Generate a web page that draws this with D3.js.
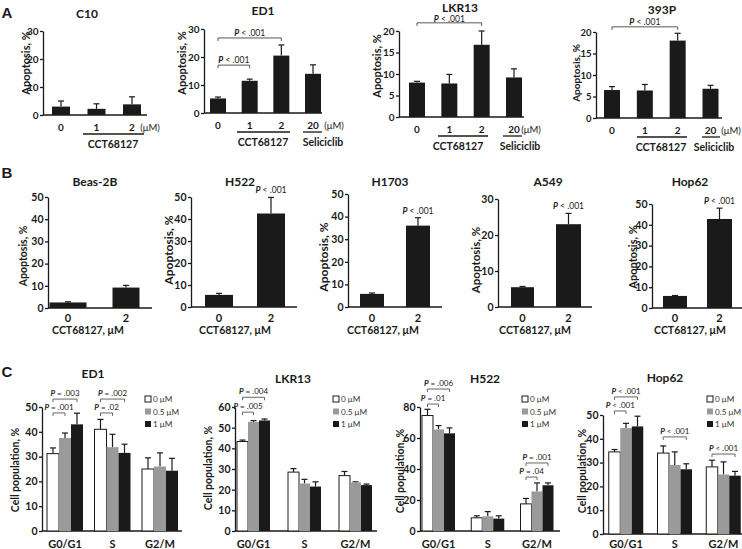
<!DOCTYPE html>
<html><head><meta charset="utf-8">
<script src="https://cdn.jsdelivr.net/npm/d3@7"></script>
<style>body{margin:0;background:#fff}svg{display:block}</style>
</head><body><svg id="c" width="742" height="549"></svg>
<script>
// ---------- DATA ----------
// Panel A: apoptosis (%) by dose (µM)
const doseCats = ["0", "1", "2", "20"];
const c10Cats = ["0", "1", "2"];
const c10Vals = [3.0, 2.2, 3.8];
const c10Errs = [2.0, 1.8, 2.7];
const ed1Vals = [5.2, 11.5, 20.5, 14.0];
const ed1Errs = [0.5, 0.6, 3.8, 3.2];
const lkr13Vals = [8.0, 7.8, 16.8, 9.2];
const lkr13Errs = [0.3, 2.1, 3.2, 2.0];
const p393Vals = [6.5, 6.4, 18.0, 6.8];
const p393Errs = [0.8, 1.4, 1.7, 0.8];
const ticksA30 = [0, 10, 20, 30];
const ticksA20 = [0, 5, 10, 15, 20];
const ed1Brackets = [["0", "1", 17.1, " < .001"], ["0", "2", 26.8, " < .001"]];
const lkr13Brackets = [["0", "2", 21.9, " < .001"]];
const p393Brackets = [["0", "2", 21.2, " < .001"]];

// Panel B: apoptosis (%) at 0 and 2 µM CCT68127
const bCats = ["0", "2"];
const beasVals = [2.5, 9.2];
const beasErrs = [0.3, 1.0];
const h522Vals = [5.5, 42.5];
const h522Errs = [0.7, 7.3];
const h1703Vals = [5.8, 36.0];
const h1703Errs = [0.4, 3.5];
const a549Vals = [5.5, 23.0];
const a549Errs = [0.2, 3.0];
const hop62Vals = [5.8, 42.8];
const hop62Errs = [0.2, 5.2];
const ticksB50 = [0, 10, 20, 30, 40, 50];
const ticksB30 = [0, 10, 20, 30];

// Panel C: cell cycle populations (%) [phase][dose]
const phases = ["G0/G1", "S", "G2/M"];
const cycleDoses = ["0 μM", "0.5 μM", "1 μM"];
const ed1CycleVals = [[31.2, 37.5, 43.0], [41.0, 33.8, 31.5], [25.0, 26.0, 24.3]];
const ed1CycleErrs = [[2.3, 2.0, 4.5], [4.0, 5.2, 3.5], [4.5, 5.5, 5.0]];
const lkr13CycleVals = [[43.3, 52.8, 53.5], [28.5, 23.0, 21.5], [26.8, 23.5, 22.2]];
const lkr13CycleErrs = [[0.7, 0.6, 0.7], [1.7, 2.0, 2.3], [2.0, 0.3, 0.5]];
const h522CycleVals = [[74.5, 65.5, 63.0], [8.5, 9.5, 8.0], [17.5, 25.5, 29.5]];
const h522CycleErrs = [[4.0, 2.5, 3.5], [1.3, 3.0, 1.8], [3.5, 5.5, 1.5]];
const hop62CycleVals = [[34.5, 44.5, 45.2], [34.0, 29.0, 27.2], [28.2, 25.0, 24.5]];
const hop62CycleErrs = [[1.0, 2.0, 4.3], [3.0, 5.5, 2.3], [2.8, 5.3, 1.8]];
const ticksC50 = [0, 10, 20, 30, 40, 50];
const ticksC60 = [0, 10, 20, 30, 40, 50, 60];
const ticksC80 = [0, 20, 40, 60, 80];
const ed1CycleBrackets = [[0, 0, 2, 53.2, " = .003"], [0, 0, 1, 47.6, " = .001"], [1, 0, 2, 53.2, " = .002"], [1, 0, 1, 47.6, " = .02"]];
const lkr13CycleBrackets = [[0, 0, 2, 64.7, " = .004"], [0, 0, 1, 57.5, " = .005"]];
const h522CycleBrackets = [[0, 0, 2, 91.6, " = .006"], [0, 0, 1, 81.9, " = .01"], [2, 0, 2, 43.9, " = .001"], [2, 0, 1, 34.8, " = .04"]];
const hop62CycleBrackets = [[0, 0, 2, 57.6, " < .001"], [0, 0, 1, 51.7, " < .001"], [1, 0, 2, 40.8, " < .001"], [2, 0, 2, 33.6, " < .001"]];

// ---------- DRAWING ----------
const FONT = "Lato, 'Open Sans', 'DejaVu Sans', sans-serif";
const INK = "#1a1a1a";
const svg = d3.select("#c").attr("font-family", FONT);

function txt(x, y, s, o = {}) {
  const t = svg.append("text").attr("x", x).attr("y", y).text(s)
    .attr("font-size", o.size || 10).attr("font-weight", o.weight || 700)
    .attr("text-anchor", o.anchor || "middle").attr("dominant-baseline", "central")
    .attr("fill", o.fill || INK);
  if (o.rotate) t.attr("transform", `rotate(-90,${x},${y})`);
  return t;
}
function pText(x, y, rest, size) {
  const t = svg.append("text").attr("x", x).attr("y", y).attr("text-anchor", "middle")
    .attr("dominant-baseline", "central").attr("font-size", size).attr("fill", INK);
  t.append("tspan").attr("font-style", "italic").attr("font-weight", 700).text("P");
  t.append("tspan").attr("font-weight", 400).text(rest);
}
function yAxis(p, y) {
  const g = svg.append("g").attr("transform", `translate(${p.ax},0)`)
    .call(d3.axisLeft(y).tickValues(p.ticks).tickSize(3).tickSizeOuter(0).tickPadding(1.5));
  g.attr("font-family", FONT);
  g.select(".domain").attr("stroke", INK).attr("stroke-width", 1.3);
  g.selectAll(".tick line").attr("stroke", INK).attr("stroke-width", 1.3);
  g.selectAll(".tick text").attr("font-size", p.tickFs || 10).attr("font-weight", 700).attr("fill", INK);
}
function xLine(p, y) {
  svg.append("line").attr("x1", p.ax).attr("x2", p.xEnd).attr("y1", y(0)).attr("y2", y(0))
    .attr("stroke", INK).attr("stroke-width", 1.3);
}
function bar(cx, w, v, e, y, fill) {
  svg.append("line").attr("x1", cx).attr("x2", cx).attr("y1", y(v)).attr("y2", y(v + e))
    .attr("stroke", INK).attr("stroke-width", 1.2);
  svg.append("line").attr("x1", cx - 3).attr("x2", cx + 3).attr("y1", y(v + e)).attr("y2", y(v + e))
    .attr("stroke", INK).attr("stroke-width", 1.2);
  svg.append("rect").attr("x", cx - w / 2).attr("y", y(v)).attr("width", w)
    .attr("height", y(0) - y(v)).attr("fill", fill)
    .attr("stroke", fill === "#fff" ? INK : "none").attr("stroke-width", 1);
}
function bracket(x1, x2, yy, tip, col) {
  svg.append("path").attr("d", `M${x1},${yy + tip}V${yy}H${x2}V${yy + tip}`)
    .attr("fill", "none").attr("stroke", col || "#555").attr("stroke-width", 1);
}

// panel letters
txt(7, 12, "A", { size: 15, weight: 700 }).attr("font-family", "Liberation Sans, Arial, sans-serif");
txt(7, 172, "B", { size: 15, weight: 700 }).attr("font-family", "Liberation Sans, Arial, sans-serif");
txt(7, 371, "C", { size: 15, weight: 700 }).attr("font-family", "Liberation Sans, Arial, sans-serif");

// ----- Row A -----
const rowA = [
  { title: "C10", cats: c10Cats, vals: c10Vals, errs: c10Errs, ticks: ticksA30, max: 30, ax: 43, y0: 115, yT: 31,
    c0: 61, c1: 132, bw: 18, xEnd: 147, tx: 87, ty: 13, ylx: 25, yly: 63, ylFs: 11, unitX: 150, tickFs: 10,
    groups: [[83, 144, "CCT68127", 113]], brackets: [], pOff: 5 },
  { title: "ED1", cats: doseCats, vals: ed1Vals, errs: ed1Errs, ticks: ticksA30, max: 30, ax: 204, y0: 113, yT: 29,
    c0: 218, c1: 313, bw: 16, xEnd: 322, tx: 263, ty: 10, ylx: 181, yly: 63, ylFs: 11, unitX: 334, tickFs: 10,
    groups: [[237, 290, "CCT68127", 263], [303, 322, "Seliciclib", 323]], brackets: ed1Brackets, pOff: 5 },
  { title: "LKR13", cats: doseCats, vals: lkr13Vals, errs: lkr13Errs, ticks: ticksA20, max: 20, ax: 399, y0: 117, yT: 31,
    c0: 417, c1: 514, bw: 16, xEnd: 524, tx: 460, ty: 7.5, ylx: 376, yly: 66, ylFs: 11, unitX: 531, tickFs: 10,
    groups: [[438, 488, "CCT68127", 458], [503, 522, "Seliciclib", 520]], brackets: lkr13Brackets, pOff: 4.3 },
  { title: "393P", cats: doseCats, vals: p393Vals, errs: p393Errs, ticks: ticksA20, max: 20, ax: 596, y0: 118, yT: 32,
    c0: 612, c1: 710.5, bw: 16, xEnd: 722, tx: 662, ty: 9, ylx: 576, yly: 73, ylFs: 10, unitX: 731, tickFs: 9.5,
    groups: [[637, 687, "CCT68127", 661], [702, 720, "Seliciclib", 714]], brackets: p393Brackets, pOff: 5 }
];
rowA.forEach(p => {
  const y = d3.scaleLinear().domain([0, p.max]).range([p.y0, p.yT]);
  const x = d3.scalePoint().domain(p.cats).range([p.c0, p.c1]);
  txt(p.tx, p.ty, p.title, { size: 12 });
  txt(p.ylx, p.yly, "Apoptosis, %", { size: p.ylFs, rotate: true });
  yAxis(p, y);
  xLine(p, y);
  p.cats.forEach((c, i) => {
    bar(x(c), p.bw, p.vals[i], p.errs[i], y, INK);
    txt(x(c), p.y0 + 12, c, { size: 10 });
  });
  txt(p.unitX, p.y0 + 12, "(μM)", { size: 9.5, weight: 400 });
  p.groups.forEach(g => {
    svg.append("line").attr("x1", g[0]).attr("x2", g[1]).attr("y1", p.y0 + 19).attr("y2", p.y0 + 19)
      .attr("stroke", INK).attr("stroke-width", 1.3);
    txt(g[3], p.y0 + 29, g[2], { size: 10.5 });
  });
  p.brackets.forEach(b => {
    const yy = y(b[2]);
    bracket(x(b[0]), x(b[1]), yy, 3);
    pText((x(b[0]) + x(b[1])) / 2, yy - p.pOff, b[3], 8.5);
  });
});

// ----- Row B -----
const rowB = [
  { title: "Beas-2B", vals: beasVals, errs: beasErrs, ticks: ticksB50, max: 50, ax: 48, y0: 308, yT: 197,
    c0: 68, c1: 126, bw: [37, 27], xEnd: 152, tx: 95, ylx: 23, yly: 256, ylFs: 10.5, lx: 88, p: false, tickFs: 10.5 },
  { title: "H522", vals: h522Vals, errs: h522Errs, ticks: ticksB50, max: 50, ax: 191, y0: 307, yT: 197,
    c0: 219, c1: 271, bw: [28, 28], xEnd: 297, tx: 240, ylx: 168, yly: 250, ylFs: 12, lx: 235, p: true, tickFs: 10.5 },
  { title: "H1703", vals: h1703Vals, errs: h1703Errs, ticks: ticksB50, max: 50, ax: 348, y0: 307, yT: 194,
    c0: 372, c1: 418, bw: [24, 24], xEnd: 442, tx: 390, ylx: 323, yly: 257, ylFs: 12, lx: 383, p: true, tickFs: 10.5 },
  { title: "A549", vals: a549Vals, errs: a549Errs, ticks: ticksB30, max: 30, ax: 498, y0: 307, yT: 199,
    c0: 522.5, c1: 568.5, bw: [23, 25], xEnd: 592, tx: 548, ylx: 475, yly: 260, ylFs: 11.5, lx: 535, p: true, tickFs: 10.5 },
  { title: "Hop62", vals: hop62Vals, errs: hop62Errs, ticks: ticksB50, max: 50, ax: 652, y0: 308, yT: 204,
    c0: 675, c1: 719.5, bw: [24, 25], xEnd: 742, tx: 690, ylx: 632, yly: 257, ylFs: 11, lx: 690, p: true, tickFs: 10.5 }
];
rowB.forEach(p => {
  const y = d3.scaleLinear().domain([0, p.max]).range([p.y0, p.yT]);
  const x = d3.scalePoint().domain(bCats).range([p.c0, p.c1]);
  txt(p.tx, 181, p.title, { size: 12 });
  txt(p.ylx, p.yly, "Apoptosis, %", { size: p.ylFs, rotate: true });
  yAxis(p, y);
  xLine(p, y);
  bCats.forEach((c, i) => {
    bar(x(c), p.bw[i], p.vals[i], p.errs[i], y, INK);
    txt(x(c), 317, c, { size: 11 });
  });
  txt(p.lx, 330, "CCT68127, μM", { size: 10.5 });
  if (p.p) pText(x("2"), y(p.vals[1] + p.errs[1]) - 7, " < .001", 8.5);
});

// ----- Row C -----
const rowC = [
  { title: "ED1", vals: ed1CycleVals, errs: ed1CycleErrs, ticks: ticksC50, max: 50, ax: 42, y0: 531, yT: 407,
    g0: 65, g1: 160, bw: 12, xEnd: 182, tx: 93, ty: 373, ylx: 15, yly: 470, legX: 145, brackets: ed1CycleBrackets },
  { title: "LKR13", vals: lkr13CycleVals, errs: lkr13CycleErrs, ticks: ticksC60, max: 60, ax: 235, y0: 531, yT: 407,
    g0: 253.5, g1: 355.5, bw: 11, xEnd: 377, tx: 293, ty: 378, ylx: 208, yly: 468, legX: 333, brackets: lkr13CycleBrackets },
  { title: "H522", vals: h522CycleVals, errs: h522CycleErrs, ticks: ticksC80, max: 80, ax: 420, y0: 531, yT: 407,
    g0: 438.5, g1: 537, bw: 11, xEnd: 560, tx: 485, ty: 378, ylx: 400, yly: 471, legX: 522, brackets: h522CycleBrackets },
  { title: "Hop62", vals: hop62CycleVals, errs: hop62CycleErrs, ticks: ticksC50, max: 50, ax: 603, y0: 534, yT: 415,
    g0: 626, g1: 723.5, bw: 11.5, xEnd: 742, tx: 665, ty: 377, ylx: 582, yly: 471, legX: 707, brackets: hop62CycleBrackets }
];
const doseFill = ["#fff", "#9a9a9a", INK];
rowC.forEach(p => {
  const y = d3.scaleLinear().domain([0, p.max]).range([p.y0, p.yT]);
  const xg = d3.scalePoint().domain(phases).range([p.g0, p.g1]);
  const xd = d3.scalePoint().domain(cycleDoses).range([-p.bw, p.bw]);
  txt(p.tx, p.ty, p.title, { size: 12 });
  txt(p.ylx, p.yly, "Cell population, %", { size: 10.5, rotate: true });
  p.tickFs = 10.5;
  yAxis(p, y);
  xLine(p, y);
  phases.forEach((ph, i) => {
    cycleDoses.forEach((d, j) => {
      bar(xg(ph) + xd(d), p.bw, p.vals[i][j], p.errs[i][j], y, doseFill[j]);
    });
    txt(xg(ph), 543, ph, { size: 11 });
  });
  p.brackets.forEach(b => {
    const ph = phases[b[0]];
    const xa = xg(ph) + xd(cycleDoses[b[1]]), xb = xg(ph) + xd(cycleDoses[b[2]]);
    const yy = y(b[3]);
    bracket(xa, xb, yy, 3, "#666");
    pText((xa + xb) / 2, yy - 6, b[4], 8);
  });
  cycleDoses.forEach((d, j) => {
    const ly = 399 + j * 12.5;
    svg.append("rect").attr("x", p.legX).attr("y", ly - 3).attr("width", 6).attr("height", 6)
      .attr("fill", doseFill[j]).attr("stroke", doseFill[j] === "#fff" ? INK : "none").attr("stroke-width", 1);
    txt(p.legX + 8, ly, d, { size: 8.2, weight: 400, anchor: "start", fill: "#333" });
  });
});
</script></body></html>
